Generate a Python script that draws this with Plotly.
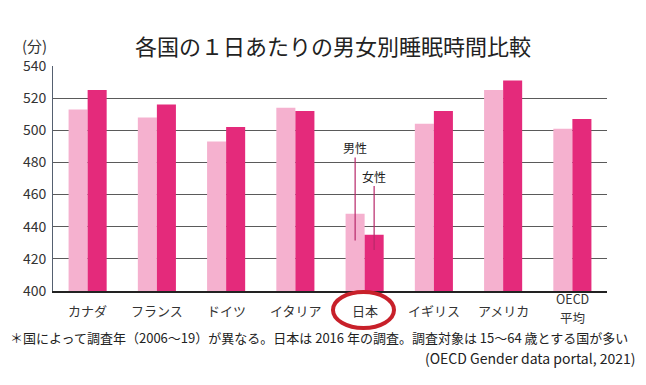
import plotly.graph_objects as go

categories = ["カナダ", "フランス", "ドイツ", "イタリア", "日本", "イギリス", "アメリカ", "OECD平均"]
cat_labels = ["カナダ", "フランス", "ドイツ", "イタリア", "日本", "イギリス", "アメリカ", "OECD|平均"]
male = [513, 508, 493, 514, 448, 504, 525, 501]
female = [525, 516, 502, 512, 435, 512, 531, 507]
y_ticks = [400, 420, 440, 460, 480, 500, 520, 540]

FONT = "Noto Sans CJK JP"
MALE_C = "#F5B1CF"
FEMALE_C = "#E42A7B"

# page has an 8px body margin; size the figure so it sits in the window
OFF = 8
W, H = 630, 369
ML, MR, MT, MB = 45, 31, 58, 86
PW, PH = W - ML - MR, H - MT - MB

def px(X):
    return (X - OFF - ML) / PW

def py(Y):
    return (H - MB - (Y - OFF)) / PH

fig = go.Figure()
fig.add_trace(go.Bar(x=categories, y=male, name="男性", marker=dict(color=MALE_C, line=dict(width=0))))
fig.add_trace(go.Bar(x=categories, y=female, name="女性", marker=dict(color=FEMALE_C, line=dict(width=0))))

fig.update_layout(
    width=W, height=H,
    margin=dict(l=ML, r=MR, t=MT, b=MB),
    paper_bgcolor="white", plot_bgcolor="white",
    barmode="group", bargap=0.45, bargroupgap=0,
    showlegend=False,
    font=dict(family=FONT, color="#333"),
    xaxis=dict(showticklabels=False, showline=True, linecolor="#222", linewidth=1.5,
               showgrid=False, ticks="", range=[-0.5, 7.5]),
    yaxis=dict(range=[400, 540], tickvals=y_ticks, showgrid=True, gridcolor="#5a5a5a",
               gridwidth=1, showline=True, linecolor="#556070", linewidth=1,
               ticks="", ticklabelstandoff=3, tickfont=dict(size=14, color="#333"),
               zeroline=False),
)

# category labels
for i, lab in enumerate(cat_labels):
    parts = lab.split("|")
    ys = [310] if len(parts) == 1 else [298, 317]
    size = 13 if len(parts) == 1 else 12.5
    for part, yc in zip(parts, ys):
        fig.add_annotation(x=categories[i], y=py(yc), xref="x", yref="paper", text=part,
                           showarrow=False, font=dict(size=size, color="#333"),
                           yanchor="middle", align="center", borderpad=0)

# circle around 日本
fig.add_shape(type="circle", xref="paper", yref="paper",
              x0=px(333), x1=px(394), y0=py(328), y1=py(292),
              line=dict(color="#C8202A", width=4))

# male/female callouts on Japan
fig.add_annotation(x=4, y=431.5, xref="x", yref="y", xshift=-9.5,
                   ax=0, ay=-93, text="男性", showarrow=True, arrowhead=0,
                   arrowcolor="#B8286A", arrowwidth=1.2, font=dict(size=12, color="#222"))
fig.add_annotation(x=4, y=425.5, xref="x", yref="y", xshift=9.5,
                   ax=0, ay=-74, text="女性", showarrow=True, arrowhead=0,
                   arrowcolor="#B8286A", arrowwidth=1.2, font=dict(size=12, color="#222"))

# title and unit
fig.add_annotation(x=px(333), y=py(45), xref="paper", yref="paper",
                   text="各国の１日あたりの男女別睡眠時間比較",
                   showarrow=False, font=dict(size=22, color="#222"),
                   xanchor="center", yanchor="middle")
fig.add_annotation(x=px(34), y=py(45), xref="paper", yref="paper", text="(分)",
                   showarrow=False, font=dict(size=15, color="#333"),
                   xanchor="center", yanchor="middle")

# footnotes
fig.add_annotation(x=px(8), y=py(337), xref="paper", yref="paper", xanchor="left",
                   yanchor="middle",
                   text="＊国によって調査年（2006～19）が異なる。日本は 2016 年の調査。調査対象は 15～64 歳とする国が多い",
                   showarrow=False, font=dict(size=13, color="#222"))
fig.add_annotation(x=px(638), y=py(358), xref="paper", yref="paper", xanchor="right",
                   yanchor="middle",
                   text="(OECD Gender data portal, 2021)",
                   showarrow=False, font=dict(size=14, color="#222"))

fig.write_html("out.html")
